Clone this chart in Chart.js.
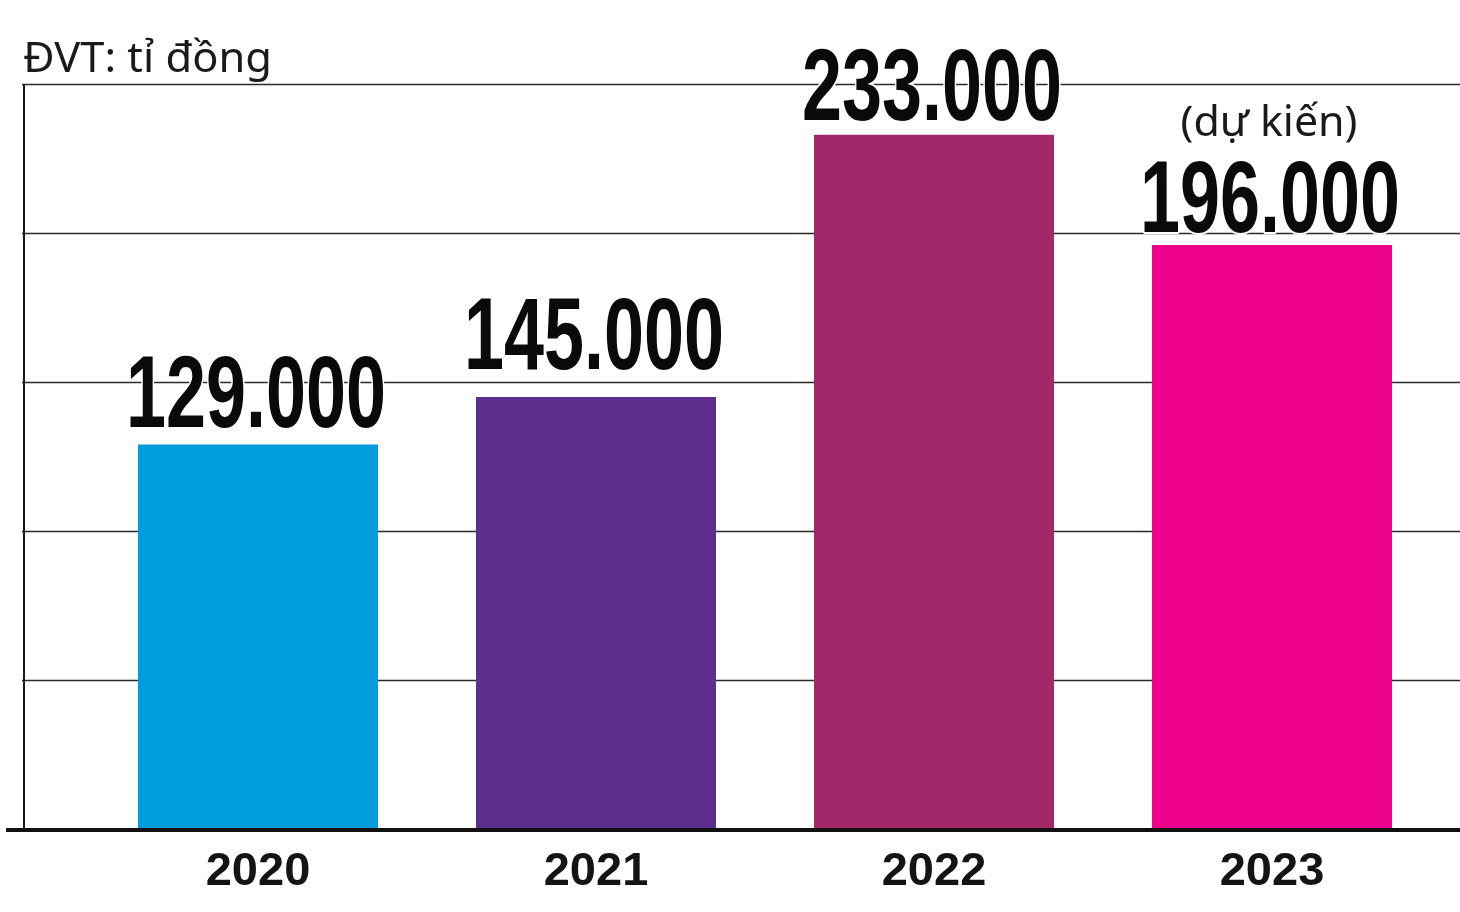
<!DOCTYPE html>
<html lang="vi">
<head>
<meta charset="utf-8">
<title>ĐVT: tỉ đồng</title>
<script src="https://cdn.jsdelivr.net/npm/chart.js@4.4.1/dist/chart.umd.min.js"></script>
<style>
  html, body { margin: 0; padding: 0; background: #fff; }
  #wrap { width: 1460px; height: 912px; position: relative; }
</style>
</head>
<body>
<div id="wrap"><canvas id="chart" width="1460" height="912"></canvas></div>
<script>
// Chart data
const years = ['2020', '2021', '2022', '2023'];
const revenue = [129000, 145000, 233000, 196000];
const notes = ['', '', '', '(dự kiến)'];
const barColors = ['#009cde', '#5e2e8f', '#a3286a', '#ec008c'];
const unitLabel = 'ĐVT: tỉ đồng';

// Format number with dot as thousands separator
function fmt(v) {
  return v.toString().replace(/\B(?=(\d{3})+(?!\d))/g, '.');
}

// Draw text squeezed/stretched horizontally to a given width
function fitText(ctx, text, x, y, width, align) {
  const w = ctx.measureText(text).width;
  const sx = width / w;
  ctx.save();
  ctx.translate(x, y);
  ctx.scale(sx, 1);
  ctx.textAlign = align;
  ctx.fillText(text, 0, 0);
  ctx.restore();
}

// Grid, axis lines and all text drawn with the chart's scales
const decorPlugin = {
  id: 'decor',
  beforeDatasetsDraw: function(chart) {
    const ctx = chart.ctx;
    const y = chart.scales.y;
    const W = chart.width;
    const axisX = 24;

    ctx.save();
    ctx.strokeStyle = '#2a2a2a';
    ctx.lineWidth = 1.5;
    y.ticks.forEach(function(t) {
      if (t.value === 0) return;
      const py = Math.round(y.getPixelForValue(t.value)) + 0.5;
      ctx.beginPath();
      ctx.moveTo(axisX - 2, py);
      ctx.lineTo(W, py);
      ctx.stroke();
    });

    // vertical axis
    ctx.lineWidth = 2;
    ctx.strokeStyle = '#1a1a1a';
    ctx.beginPath();
    ctx.moveTo(axisX, y.getPixelForValue(y.max));
    ctx.lineTo(axisX, y.getPixelForValue(0));
    ctx.stroke();

    // unit label
    ctx.fillStyle = '#1a1a1a';
    ctx.font = '42px "Noto Sans", "Open Sans", sans-serif';
    ctx.textBaseline = 'alphabetic';
    fitText(ctx, unitLabel, 23, 72, 249, 'left');
    ctx.restore();
  },
  afterDatasetsDraw: function(chart, args, opts) {
    const ctx = chart.ctx;
    const x = chart.scales.x;
    const y = chart.scales.y;
    const meta = chart.getDatasetMeta(0);

    ctx.save();
    // baseline
    ctx.strokeStyle = '#111';
    ctx.lineWidth = 4;
    const by = y.getPixelForValue(0) + 1;
    ctx.beginPath();
    ctx.moveTo(6, by);
    ctx.lineTo(chart.width, by);
    ctx.stroke();

    meta.data.forEach(function(bar, i) {
      const cx = bar.x;
      const top = bar.y;
      const text = fmt(revenue[i]);

      // value label: condensed bold, squeezed to width, white halo over grid
      ctx.font = 'bold 102px "Liberation Sans Narrow", "Liberation Sans", Arial, sans-serif';
      const w = ctx.measureText(text).width;
      const sx = 260 / w;
      const baseY = top - opts.gaps[i];
      ctx.save();
      ctx.translate(cx - 2, baseY);
      ctx.scale(sx, 1);
      ctx.textAlign = 'center';
      ctx.textBaseline = 'alphabetic';
      ctx.lineJoin = 'round';
      ctx.strokeStyle = '#fff';
      ctx.lineWidth = 4;
      ctx.strokeText(text, 0, 0);
      ctx.fillStyle = '#0a0a0a';
      ctx.fillText(text, 0, 0);
      ctx.restore();

      if (notes[i]) {
        ctx.font = '41px "Noto Sans", "Open Sans", sans-serif';
        ctx.fillStyle = '#1a1a1a';
        ctx.textBaseline = 'alphabetic';
        fitText(ctx, notes[i], cx - 3, baseY - 96, 177, 'center');
      }

      // category label
      ctx.font = 'bold 47px "Liberation Sans", Arial, sans-serif';
      ctx.fillStyle = '#141414';
      ctx.textAlign = 'center';
      ctx.textBaseline = 'alphabetic';
      ctx.fillText(years[i], x.getPixelForValue(i), 885);
    });
    ctx.restore();
  }
};

new Chart(document.getElementById('chart'), {
  type: 'bar',
  data: {
    labels: years,
    datasets: [{
      data: revenue,
      backgroundColor: barColors,
      borderWidth: 0,
      categoryPercentage: 1,
      barPercentage: 0.71
    }]
  },
  options: {
    responsive: false,
    animation: false,
    events: [],
    layout: {
      padding: { left: 89, right: 19, top: 84, bottom: 83 }
    },
    scales: {
      x: {
        display: false,
        offset: true
      },
      y: {
        display: false,
        min: 0,
        max: 250000,
        ticks: { stepSize: 50000 }
      }
    },
    plugins: {
      legend: { display: false },
      tooltip: { enabled: false },
      decor: { gaps: [18, 28, 15, 13] }
    }
  },
  plugins: [decorPlugin]
});
</script>
</body>
</html>
